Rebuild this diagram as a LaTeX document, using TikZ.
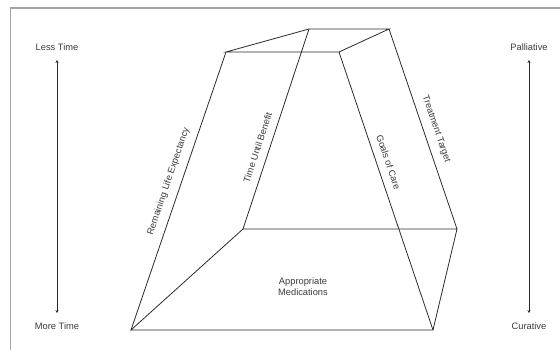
\documentclass[tikz,border=0pt]{standalone}
\usepackage{fontspec}
\setmainfont{Liberation Sans}
\usetikzlibrary{arrows.meta,positioning}
\definecolor{edge}{HTML}{2B2B2B}
\definecolor{frame}{HTML}{A3A3A3}
\definecolor{ink}{HTML}{3A3A3A}

\begin{document}
\begin{tikzpicture}[
		x=1pt, y=-1pt,
		font=\fontsize{9.3}{10.8}\selectfont,
		every node/.style={align=center, text=ink},
		edge/.style={draw=edge, line width=0.8pt},
		axis/.style={{Stealth[length=3pt,width=3pt]}-{Stealth[length=3pt,width=3pt]},
				draw=edge, line width=0.8pt, shorten <=6pt, shorten >=6pt},
		lbl/.style={sloped, above=6pt, inner sep=2pt},
		]
		\useasboundingbox (0,0) rectangle (560,349);
		\draw[frame, line width=1.6pt] (10.5,360) -- (10.5,8) -- (570,8);

		% corners of the frustum
		\coordinate (tbl) at (309,29);
		\coordinate (tbr) at (389,29);
		\coordinate (tfl) at (226,52);
		\coordinate (tfr) at (339,52);
		\coordinate (bbl) at (243,229);
		\coordinate (bbr) at (457,229);
		\coordinate (bfl) at (131,330);
		\coordinate (bfr) at (433,330);

		\draw[edge] (tfl) -- (tfr) -- (tbr) -- (tbl) -- cycle;
		\draw[edge] (bfl) -- (bfr) -- (bbr) -- (bbl) -- cycle;
		\draw[edge] (tfl) -- (bfl);
		\draw[edge] (tbl) -- (bbl);
		\draw[edge] (tfr) -- (bfr);
		\draw[edge] (tbr) -- (bbr);

		\path (bfl) -- (tfl) node[lbl, pos=0.52] (life) {Remaining Life Expectancy};
		\path (bbl) -- (tbl) node[lbl, pos=0.39] (benefit) {Time Until Benefit};
		\path (tfr) -- (bfr) node[lbl, pos=0.41] (goals) {Goals of Care};
		\path (tbr) -- (bbr) node[lbl, pos=0.52] (target) {Treatment Target};
		\node (meds) at (303,287) {Appropriate\\Medications};

		% side scales
		\node (less) at (57,47)  {Less Time};
		\node (more) at (57,326) {More Time};
		\node (pall) at (529,47)  {Palliative};
		\node (cura) at (529,326) {Curative};

		\draw[axis] (less) -- (more);
		\draw[axis] (pall) -- (cura);

	\end{tikzpicture}
\end{document}
